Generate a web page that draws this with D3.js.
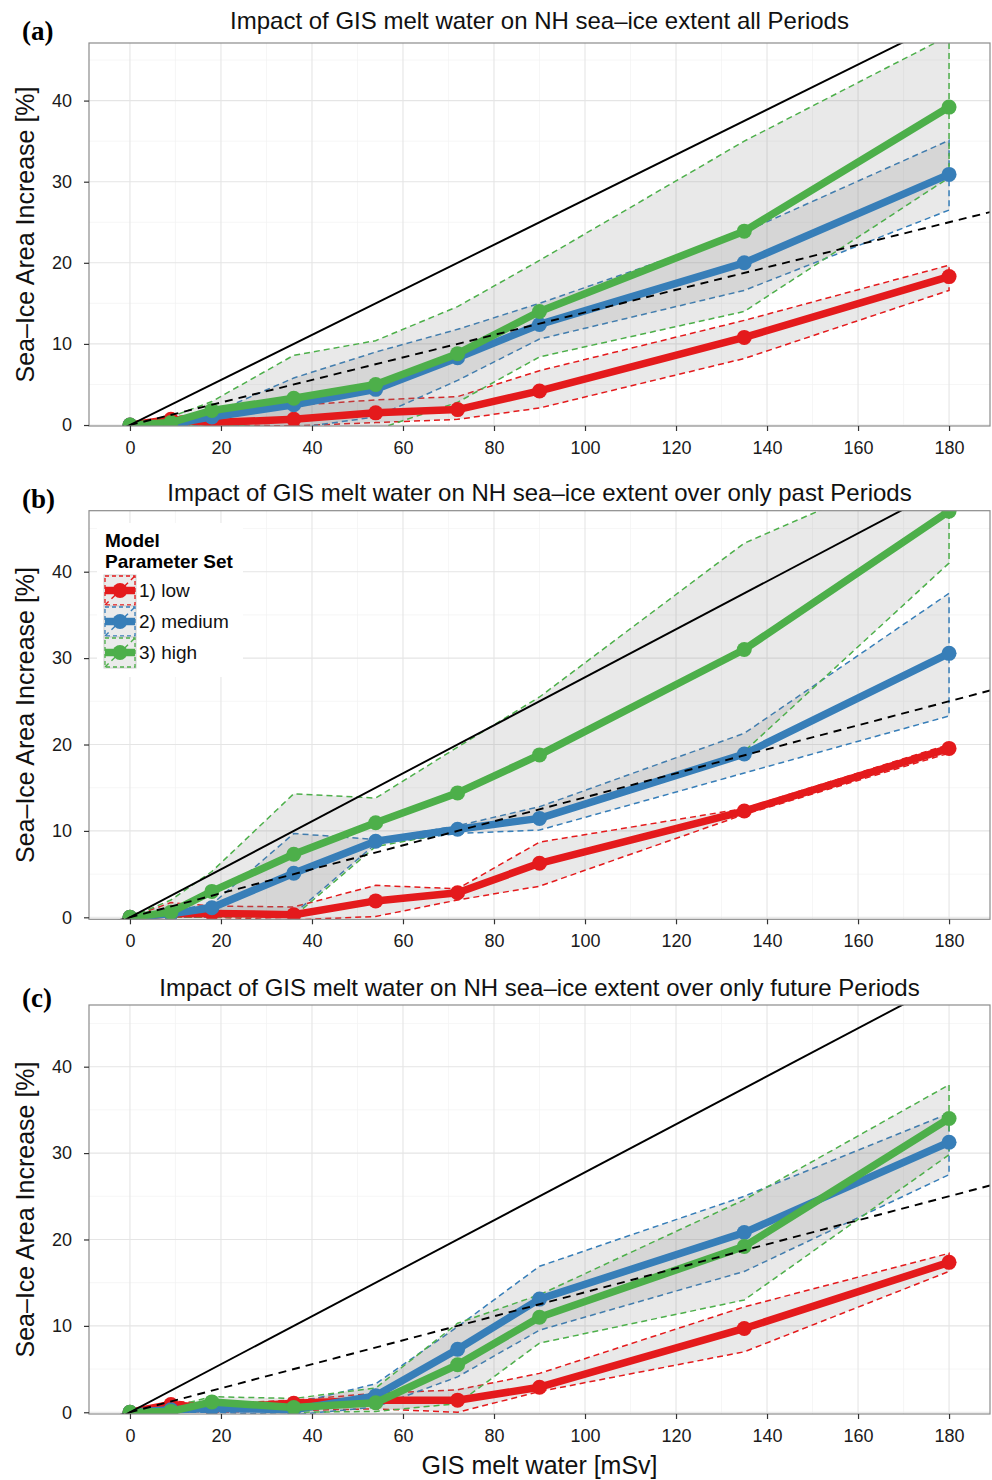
<!DOCTYPE html>
<html>
<head>
<meta charset="utf-8">
<script src="https://cdn.jsdelivr.net/npm/d3@7"></script>
<style>
  body { margin: 0; background: #fff; }
  svg { display: block; }
  text { font-family: "Liberation Sans", Arial, sans-serif; }
</style>
</head>
<body>
<div id="chart"></div>
<script>
// GIS melt water levels [mSv]
var meltWater = [0, 9, 18, 36, 54, 72, 90, 135, 180];
var xTicks = [0, 20, 40, 60, 80, 100, 120, 140, 160, 180];
var xMinor = [10, 30, 50, 70, 90, 110, 130, 150, 170];
var yTicks = [0, 10, 20, 30, 40];
var yMinor = [5, 15, 25, 35, 45];

var setNames = ['1) low', '2) medium', '3) high'];
var setColors = ['#E41A1C', '#377EB8', '#4DAF4A'];

// (a) all periods
var aLow     = [0, 0.7, 0.3, 0.7, 1.5, 1.9, 4.2, 10.8, 18.3];
var aLowMin  = [0, 0, 0, -0.1, 0.3, 0.7, 2.1, 8.2, 16.6];
var aLowMax  = [0, 1.0, 1.4, 2.4, 3.1, 3.5, 6.7, 12.9, 19.7];
var aMed     = [0, 0.1, 1.0, 2.5, 4.4, 8.3, 12.4, 20.0, 30.9];
var aMedMin  = [0, 0, 0, -0.4, 1.0, 5.5, 10.6, 16.6, 26.5];
var aMedMax  = [0, 0.5, 1.4, 5.8, 9.0, 11.8, 15.0, 23.8, 35.1];
var aHigh    = [0, 0.3, 1.8, 3.3, 5.0, 8.8, 14.0, 23.9, 39.2];
var aHighMin = [0, 0, 0, -0.3, -0.6, 2.8, 8.4, 14.0, 30.5];
var aHighMax = [0, 1.0, 2.9, 8.6, 10.4, 14.6, 20.3, 35.0, 48.0];

// (b) past periods only
var bLow     = [0, 0.4, 0.45, 0.3, 1.9, 2.85, 6.25, 12.3, 19.55];
var bLowMin  = [0, 0, 0, -0.3, 0.1, 2.0, 3.6, 11.9, 19.0];
var bLowMax  = [0, 1.7, 1.3, 1.2, 3.7, 3.3, 8.7, 12.6, 20.0];
var bMed     = [0, 0.4, 1.1, 5.1, 8.8, 10.2, 11.45, 18.9, 30.55];
var bMedMin  = [0, 0, 0, 0.4, 8.5, 9.7, 10.1, 16.7, 23.3];
var bMedMax  = [0, 0.8, 1.5, 9.7, 9.0, 10.6, 12.8, 21.3, 37.5];
var bHigh    = [0, 0.6, 3.0, 7.3, 10.95, 14.4, 18.8, 31.0, 47.0];
var bHighMin = [0, 0, 0, 0.1, 8.2, 9.9, 11.2, 19.2, 41.0];
var bHighMax = [0, 2.0, 5.3, 14.3, 13.8, 19.7, 25.5, 43.3, 53.6];

// (c) future periods only
var cLow     = [0, 0.9, 0.45, 1.05, 1.4, 1.4, 2.9, 9.7, 17.35];
var cLowMin  = [0, 0.2, 0, 0.2, 0.4, 0.0, 2.4, 7.0, 16.3];
var cLowMax  = [0, 1.3, 1.0, 1.4, 2.2, 2.6, 4.5, 12.2, 18.4];
var cMed     = [0, 0.3, 0.45, 0.3, 1.9, 7.3, 13.1, 20.8, 31.25];
var cMedMin  = [0, 0, 0, -0.3, 0.6, 4.1, 9.5, 16.3, 27.5];
var cMedMax  = [0, 0.8, 1.0, 1.0, 3.3, 9.9, 16.9, 25.0, 34.6];
var cHigh    = [0, 0.1, 1.2, 0.55, 1.1, 5.5, 11.0, 19.2, 34.0];
var cHighMin = [0, 0, 0.3, 0, 0.1, 1.0, 8.0, 13.0, 29.8];
var cHighMax = [0, 0.6, 1.8, 1.6, 2.8, 10.3, 13.6, 24.6, 37.9];

// reference lines y = x / 3.6 and y = x / 7.2
var refSlopes = [1 / 3.6, 1 / 7.2];

var W = 992, H = 1480;
var left = 89, right = 990;

var panels = [
  { label: '(a)', title: 'Impact of GIS melt water on NH sea\u2013ice extent all Periods',
    top: 43, bottom: 426, ydom: [-0.12, 47.1], labelY: 40, titleY: 29,
    means: [aLow, aMed, aHigh], mins: [aLowMin, aMedMin, aHighMin], maxs: [aLowMax, aMedMax, aHighMax] },
  { label: '(b)', title: 'Impact of GIS melt water on NH sea\u2013ice extent over only past Periods',
    top: 510.7, bottom: 919.3, ydom: [-0.23, 47.06], labelY: 508, titleY: 501, legend: true,
    means: [bLow, bMed, bHigh], mins: [bLowMin, bMedMin, bHighMin], maxs: [bLowMax, bMedMax, bHighMax] },
  { label: '(c)', title: 'Impact of GIS melt water on NH sea\u2013ice extent over only future Periods',
    top: 1005, bottom: 1414, ydom: [-0.2, 47.14], labelY: 1007, titleY: 996, xTitle: true,
    means: [cLow, cMed, cHigh], mins: [cLowMin, cMedMin, cHighMin], maxs: [cLowMax, cMedMax, cHighMax] }
];

var svg = d3.select('#chart').append('svg')
  .attr('width', W).attr('height', H);

var x = d3.scaleLinear().domain([-9, 189]).range([left, right]);

panels.forEach(function (p, pi) {
  var y = d3.scaleLinear().domain(p.ydom).range([p.bottom, p.top]);
  var g = svg.append('g');

  var clipId = 'clip' + pi;
  svg.append('clipPath').attr('id', clipId)
    .append('rect')
    .attr('x', left).attr('y', p.top)
    .attr('width', right - left).attr('height', p.bottom - p.top);

  // grid
  var grid = g.append('g');
  grid.selectAll('.vminor').data(xMinor).enter().append('line')
    .attr('x1', x).attr('x2', x).attr('y1', p.top).attr('y2', p.bottom)
    .attr('stroke', '#f2f2f2').attr('stroke-width', 0.7);
  grid.selectAll('.hminor').data(yMinor).enter().append('line')
    .attr('y1', y).attr('y2', y).attr('x1', left).attr('x2', right)
    .attr('stroke', '#f2f2f2').attr('stroke-width', 0.7);
  grid.selectAll('.vmajor').data(xTicks).enter().append('line')
    .attr('x1', x).attr('x2', x).attr('y1', p.top).attr('y2', p.bottom)
    .attr('stroke', '#e5e5e5').attr('stroke-width', 1.1);
  grid.selectAll('.hmajor').data(yTicks).enter().append('line')
    .attr('y1', y).attr('y2', y).attr('x1', left).attr('x2', right)
    .attr('stroke', '#e5e5e5').attr('stroke-width', 1.1);

  var plot = g.append('g').attr('clip-path', 'url(#' + clipId + ')');

  var rows = setColors.map(function (c, si) {
    return meltWater.map(function (mw, i) {
      return { x: mw, m: p.means[si][i], lo: p.mins[si][i], hi: p.maxs[si][i] };
    });
  });

  var area = d3.area()
    .x(function (d) { return x(d.x); })
    .y0(function (d) { return y(d.lo); })
    .y1(function (d) { return y(d.hi); });

  rows.forEach(function (r, si) {
    plot.append('path').datum(r)
      .attr('d', area)
      .attr('fill', '#7f7f7f').attr('fill-opacity', 0.17)
      .attr('stroke', setColors[si]).attr('stroke-width', 1.5)
      .attr('stroke-dasharray', '6,4');
  });

  var line = d3.line()
    .x(function (d) { return x(d.x); })
    .y(function (d) { return y(d.m); });

  rows.forEach(function (r, si) {
    plot.append('path').datum(r)
      .attr('d', line)
      .attr('fill', 'none')
      .attr('stroke', setColors[si]).attr('stroke-width', 7.5)
      .attr('stroke-linejoin', 'round');
    plot.selectAll('.pt' + si).data(r).enter().append('circle')
      .attr('cx', function (d) { return x(d.x); })
      .attr('cy', function (d) { return y(d.m); })
      .attr('r', 7.5)
      .attr('fill', setColors[si]);
  });

  refSlopes.forEach(function (s, k) {
    var dom = x.domain();
    plot.append('line')
      .attr('x1', x(dom[0])).attr('y1', y(dom[0] * s))
      .attr('x2', x(dom[1])).attr('y2', y(dom[1] * s))
      .attr('stroke', '#000').attr('stroke-width', 1.9)
      .attr('stroke-dasharray', k === 1 ? '8,6' : null);
  });

  // border
  g.append('rect')
    .attr('x', left).attr('y', p.top)
    .attr('width', right - left).attr('height', p.bottom - p.top)
    .attr('fill', 'none').attr('stroke', '#8c8c8c').attr('stroke-width', 1.2);

  // axes
  var xAxis = g.append('g')
    .attr('transform', 'translate(0,' + p.bottom + ')')
    .call(d3.axisBottom(x).tickValues(xTicks).tickSize(5).tickSizeOuter(0).tickPadding(10));
  var yAxis = g.append('g')
    .attr('transform', 'translate(' + left + ',0)')
    .call(d3.axisLeft(y).tickValues(yTicks).tickSize(5).tickSizeOuter(0).tickPadding(12));
  [xAxis, yAxis].forEach(function (ax) {
    ax.select('.domain').remove();
    ax.selectAll('line').attr('stroke', '#333').attr('stroke-width', 1.2);
    ax.selectAll('text')
      .attr('fill', '#1a1a1a')
      .style('font-size', '18px')
      .style('font-family', '"Liberation Sans", Arial, sans-serif');
  });

  // titles
  g.append('text')
    .attr('x', (left + right) / 2).attr('y', p.titleY)
    .attr('text-anchor', 'middle')
    .style('font-size', '24px')
    .attr('fill', '#111')
    .text(p.title);

  g.append('text')
    .attr('x', 22).attr('y', p.labelY)
    .style('font-family', '"Liberation Serif", "Times New Roman", serif')
    .style('font-weight', 'bold')
    .style('font-size', '27px')
    .text(p.label);

  g.append('text')
    .attr('transform', 'translate(34,' + ((p.top + p.bottom) / 2) + ') rotate(-90)')
    .attr('text-anchor', 'middle')
    .style('font-size', '25px')
    .attr('fill', '#111')
    .text('Sea\u2013Ice Area Increase [%]');

  if (p.xTitle) {
    g.append('text')
      .attr('x', (left + right) / 2).attr('y', 1474)
      .attr('text-anchor', 'middle')
      .style('font-size', '25px')
      .attr('fill', '#111')
      .text('GIS melt water [mSv]');
  }

  if (p.legend) {
    var lg = g.append('g');
    lg.append('rect')
      .attr('x', 97).attr('y', 523).attr('width', 146).attr('height', 154)
      .attr('fill', '#fff');
    lg.append('text').attr('x', 105).attr('y', 547)
      .style('font-size', '19px').style('font-weight', 'bold').text('Model');
    lg.append('text').attr('x', 105).attr('y', 568)
      .style('font-size', '19px').style('font-weight', 'bold').text('Parameter Set');

    setNames.forEach(function (name, si) {
      var ky = 575 + si * 31;
      var kx = 104, kw = 32, kh = 31;
      var k = lg.append('g');
      k.append('rect').attr('x', kx).attr('y', ky).attr('width', kw).attr('height', kh)
        .attr('fill', '#ebebeb').attr('stroke', '#cfcfcf').attr('stroke-width', 1);
      k.append('rect').attr('x', kx + 1).attr('y', ky + 1).attr('width', kw - 2).attr('height', kh - 2)
        .attr('fill', 'none').attr('stroke', setColors[si]).attr('stroke-width', 1.3)
        .attr('stroke-dasharray', '4,3');
      k.append('line')
        .attr('x1', kx + 1).attr('y1', ky + kh - 1).attr('x2', kx + kw - 1).attr('y2', ky + 1)
        .attr('stroke', setColors[si]).attr('stroke-width', 1.4).attr('stroke-dasharray', '5,4');
      k.append('line')
        .attr('x1', kx + 1).attr('y1', ky + kh / 2).attr('x2', kx + kw - 1).attr('y2', ky + kh / 2)
        .attr('stroke', setColors[si]).attr('stroke-width', 7.5);
      k.append('circle').attr('cx', kx + kw / 2).attr('cy', ky + kh / 2).attr('r', 7.5)
        .attr('fill', setColors[si]);
      lg.append('text').attr('x', 139).attr('y', ky + kh / 2 + 6.5)
        .style('font-size', '19px').attr('fill', '#111').text(name);
    });
  }
});
</script>
</body>
</html>
